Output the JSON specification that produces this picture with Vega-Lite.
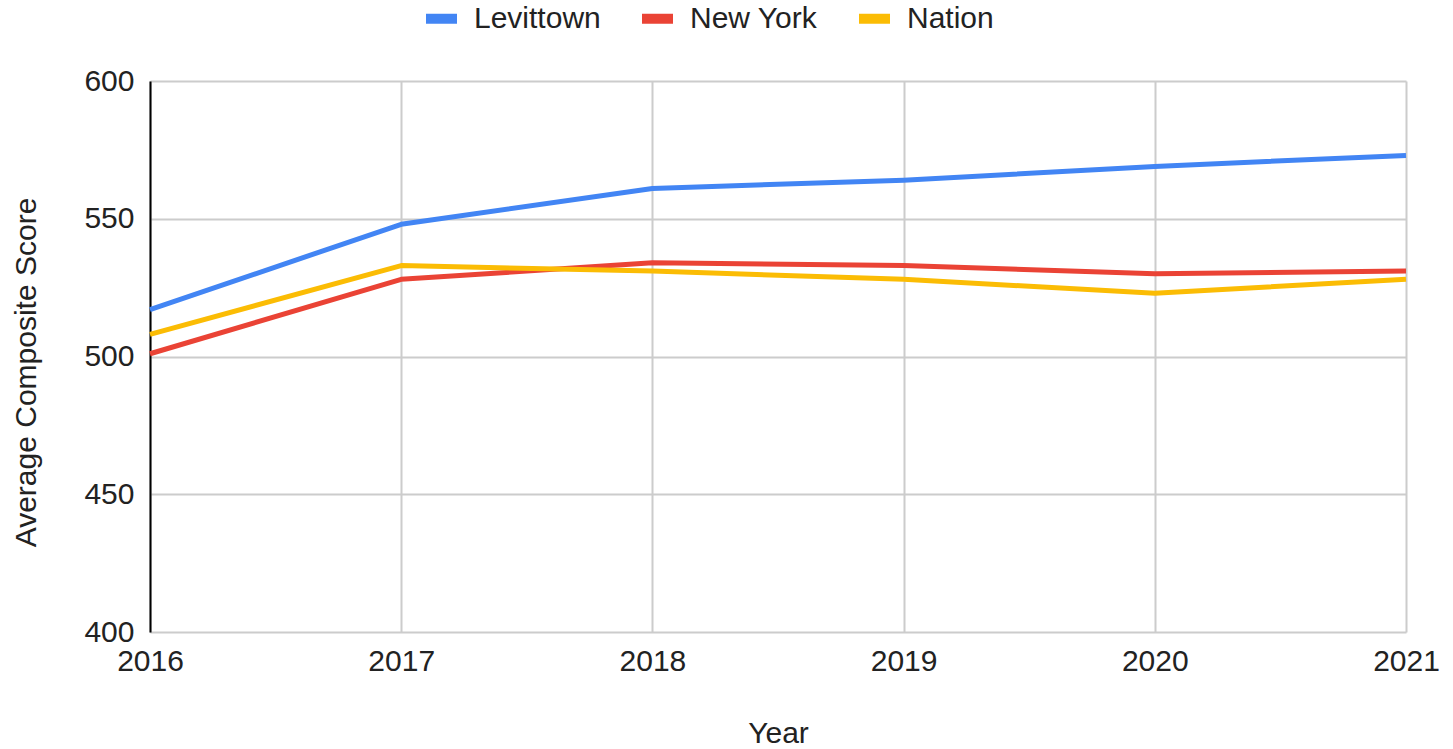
{
  "$schema": "https://vega.github.io/schema/vega-lite/v6.json",
  "autosize": "none",
  "width": 1256,
  "height": 551,
  "padding": {"left": 150, "top": 81, "right": 47, "bottom": 117},
  "background": "white",
  "config": {
    "font": "Liberation Sans",
    "view": {"stroke": null},
    "axis": {
      "labelFont": "Liberation Sans",
      "titleFont": "Liberation Sans",
      "labelFontSize": 30,
      "titleFontSize": 30,
      "labelColor": "#222222",
      "titleColor": "#222222",
      "titleFontWeight": "normal",
      "gridColor": "#cccccc",
      "gridWidth": 2,
      "ticks": false,
      "tickSize": 0
    },
    "legend": {
      "labelFont": "Liberation Sans",
      "labelFontSize": 30,
      "labelColor": "#222222"
    }
  },
  "data": {
    "values": [
      {"year": 2016, "series": "Levittown", "score": 517},
      {"year": 2017, "series": "Levittown", "score": 548},
      {"year": 2018, "series": "Levittown", "score": 561},
      {"year": 2019, "series": "Levittown", "score": 564},
      {"year": 2020, "series": "Levittown", "score": 569},
      {"year": 2021, "series": "Levittown", "score": 573},
      {"year": 2016, "series": "New York", "score": 501},
      {"year": 2017, "series": "New York", "score": 528},
      {"year": 2018, "series": "New York", "score": 534},
      {"year": 2019, "series": "New York", "score": 533},
      {"year": 2020, "series": "New York", "score": 530},
      {"year": 2021, "series": "New York", "score": 531},
      {"year": 2016, "series": "Nation", "score": 508},
      {"year": 2017, "series": "Nation", "score": 533},
      {"year": 2018, "series": "Nation", "score": 531},
      {"year": 2019, "series": "Nation", "score": 528},
      {"year": 2020, "series": "Nation", "score": 523},
      {"year": 2021, "series": "Nation", "score": 528}
    ]
  },
  "mark": {"type": "line", "strokeWidth": 5, "strokeJoin": "round"},
  "encoding": {
    "x": {
      "field": "year",
      "type": "quantitative",
      "scale": {"domain": [2016, 2021], "nice": false, "zero": false},
      "axis": {
        "title": "Year",
        "values": [2016, 2017, 2018, 2019, 2020, 2021],
        "format": "d",
        "domain": false,
        "labelPadding": 14,
        "labelBaseline": "top",
        "titleX": 628,
        "titleY": 101,
        "titleBaseline": "middle",
        "labelFlush": false
      }
    },
    "y": {
      "field": "score",
      "type": "quantitative",
      "scale": {"domain": [400, 600], "nice": false, "zero": false},
      "axis": {
        "title": "Average Composite Score",
        "values": [400, 450, 500, 550, 600],
        "domain": true,
        "domainColor": "#000000",
        "domainWidth": 2,
        "labelPadding": 16,
        "titleAngle": -90,
        "titleX": -124,
        "titleY": 291,
        "titleAlign": "center",
        "titleBaseline": "middle"
      }
    },
    "color": {
      "field": "series",
      "type": "nominal",
      "scale": {
        "domain": ["Levittown", "New York", "Nation"],
        "range": ["#4285F4", "#EA4335", "#FBBC04"]
      },
      "legend": {
        "title": null,
        "orient": "none",
        "direction": "horizontal",
        "legendX": 271,
        "legendY": -83,
        "symbolType": "stroke",
        "symbolSize": 961,
        "symbolStrokeWidth": 10,
        "labelOffset": 12,
        "columnPadding": 21
      }
    }
  }
}
